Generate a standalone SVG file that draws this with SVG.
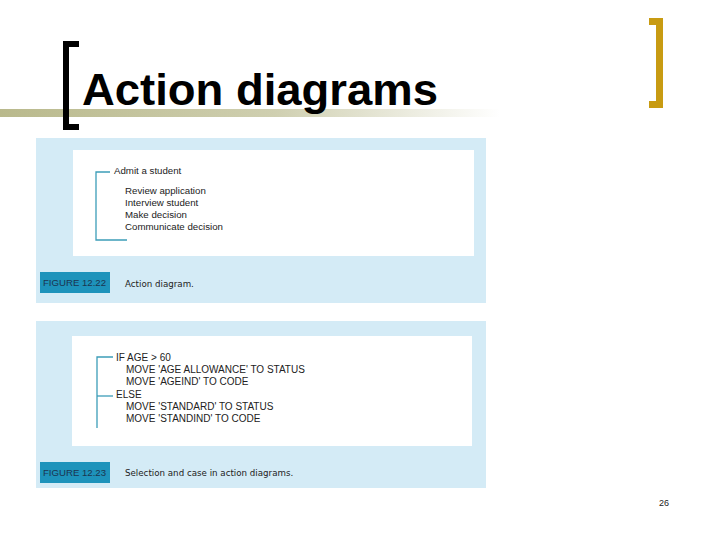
<svg xmlns="http://www.w3.org/2000/svg" width="720" height="540" viewBox="0 0 720 540">
<defs>
<linearGradient id="rule" x1="0" y1="0" x2="1" y2="0">
<stop offset="0" stop-color="#B9B98C"/>
<stop offset="0.55" stop-color="#CFCFB0"/>
<stop offset="1" stop-color="#FFFFFF"/>
</linearGradient>
<style>
.panel{fill:#D4EBF6}
.inner{fill:#FFFFFF}
.tag{fill:#1E93BB}
.tagtxt{font-family:"Liberation Sans Narrow","Liberation Sans",sans-serif;font-size:9.5px;fill:#1B3550}
.cap{font-family:"DejaVu Sans",sans-serif;font-size:8.7px;fill:#222}
.t{font-family:"Liberation Sans",Arial,sans-serif;font-size:9.7px;fill:#222}
.u{font-family:"Liberation Sans",Arial,sans-serif;font-size:10px;fill:#222}
.br{fill:none;stroke:#3C9DB8;stroke-width:1.3}
</style>
</defs>
<rect width="720" height="540" fill="#FFFFFF"/>

<g id="title">
<rect x="0" y="109" width="500" height="8" fill="url(#rule)"/>
<path d="M79 44 H66 V127 H79" fill="none" stroke="#000" stroke-width="6"/>
<path d="M649 21.5 H659.5 V104.5 H649" fill="none" stroke="#C89B12" stroke-width="7"/>
<text x="82" y="105" font-family="'Liberation Sans',Arial,sans-serif" font-weight="bold" font-size="45" fill="#000" textLength="356" lengthAdjust="spacingAndGlyphs">Action diagrams</text>
</g>

<g id="figure-12-22">
<rect class="panel" x="36" y="138" width="450" height="165"/>
<rect class="inner" x="73" y="150" width="401" height="106"/>
<rect class="tag" x="40" y="272" width="70" height="21"/>
<text class="tagtxt" x="43" y="286" textLength="63" lengthAdjust="spacingAndGlyphs">FIGURE 12.22</text>
<text class="cap" x="125" y="287">Action diagram.</text>
</g>

<g id="figure-12-23">
<rect class="panel" x="36" y="321" width="450" height="167"/>
<rect class="inner" x="72" y="336" width="400" height="110"/>
<rect class="tag" x="40" y="462" width="70" height="21"/>
<text class="tagtxt" x="43" y="476" textLength="63" lengthAdjust="spacingAndGlyphs">FIGURE 12.23</text>
<text class="cap" x="125" y="476">Selection and case in action diagrams.</text>
</g>

<g id="connectors">
<path class="br" d="M110 172 H96 V240 H127"/>
<path class="br" d="M113 357 H97 V428"/>
<path class="br" d="M97 396 H113"/>
</g>

<g id="admit">
<text class="t" x="114" y="174">Admit a student</text>
<text class="t" x="125" y="194">Review application</text>
<text class="t" x="125" y="206">Interview student</text>
<text class="t" x="125" y="218">Make decision</text>
<text class="t" x="125" y="230">Communicate decision</text>
</g>

<g id="selection">
<text class="u" x="116" y="361">IF AGE &gt; 60</text>
<text class="u" x="126" y="373">MOVE 'AGE ALLOWANCE' TO STATUS</text>
<text class="u" x="126" y="385">MOVE 'AGEIND' TO CODE</text>
<text class="u" x="116" y="398">ELSE</text>
<text class="u" x="126" y="410">MOVE 'STANDARD' TO STATUS</text>
<text class="u" x="126" y="422">MOVE 'STANDIND' TO CODE</text>
</g>

<text x="659" y="506" font-family="'Liberation Sans',Arial,sans-serif" font-size="9" fill="#222">26</text>
</svg>
